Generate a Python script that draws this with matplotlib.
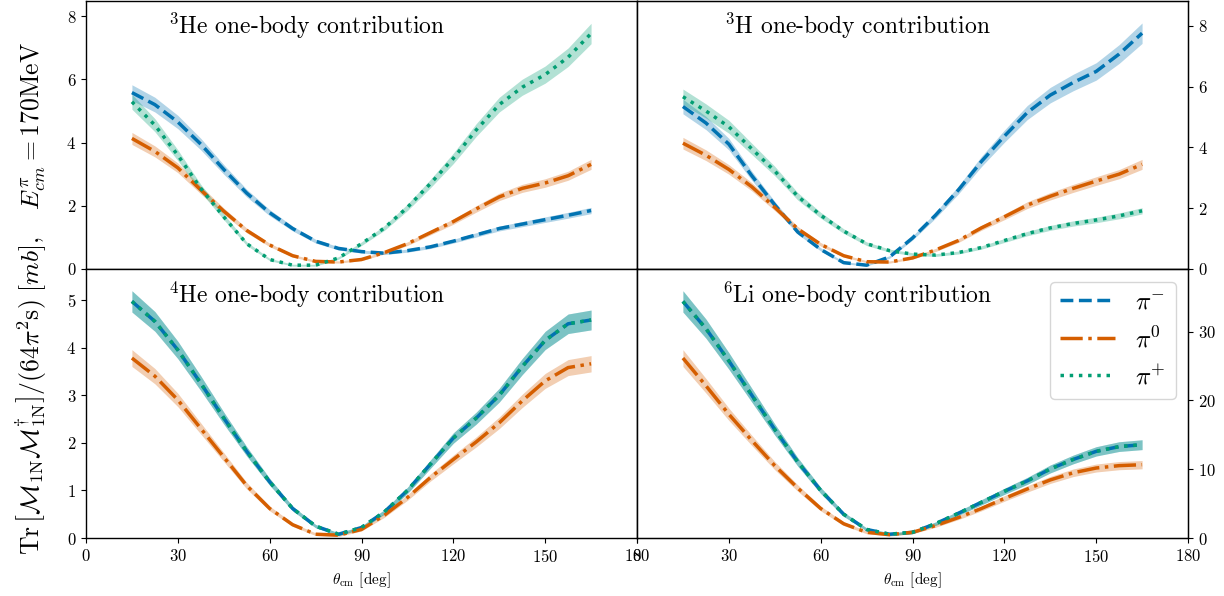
import numpy as np
import matplotlib
matplotlib.use("Agg")
import matplotlib.pyplot as plt

plt.rcParams['font.family'] = 'serif'
plt.rcParams['font.serif'] = ['cmr10']
plt.rcParams['mathtext.fontset'] = 'cm'
plt.rcParams['axes.formatter.use_mathtext'] = True
plt.rcParams['axes.unicode_minus'] = False

# scattering angle grid (deg)
theta = [15, 22.5, 30, 37.5, 45, 52.5, 60, 67.5, 75, 82.5, 90,
         97.5, 105, 112.5, 120, 127.5, 135, 142.5, 150, 157.5, 165]

# 3He
he3_pim = [5.58, 5.20, 4.65, 3.95, 3.15, 2.40, 1.78, 1.28, 0.88, 0.65, 0.55,
           0.50, 0.58, 0.70, 0.88, 1.08, 1.28, 1.42, 1.56, 1.70, 1.85]
he3_pi0 = [4.13, 3.72, 3.20, 2.50, 1.83, 1.22, 0.76, 0.42, 0.24, 0.22, 0.30,
           0.52, 0.80, 1.15, 1.50, 1.90, 2.28, 2.55, 2.72, 2.95, 3.31]
he3_pip = [5.29, 4.55, 3.60, 2.55, 1.65, 0.80, 0.30, 0.12, 0.12, 0.35, 0.80,
           1.30, 1.95, 2.70, 3.50, 4.40, 5.20, 5.75, 6.15, 6.70, 7.45]

# 3H
h3_pim = [5.14, 4.62, 3.95, 2.95, 2.03, 1.17, 0.62, 0.20, 0.12, 0.38, 0.98,
          1.70, 2.50, 3.40, 4.20, 4.95, 5.50, 5.90, 6.25, 6.80, 7.46]
h3_pi0 = [3.98, 3.60, 3.15, 2.60, 1.95, 1.27, 0.78, 0.42, 0.23, 0.22, 0.35,
          0.60, 0.90, 1.30, 1.65, 2.02, 2.30, 2.55, 2.78, 3.00, 3.31]
h3_pip = [5.45, 5.00, 4.50, 3.80, 3.10, 2.30, 1.70, 1.20, 0.80, 0.58, 0.47,
          0.44, 0.52, 0.68, 0.90, 1.12, 1.30, 1.44, 1.55, 1.68, 1.84]

# 4He (pi- and pi+ coincide)
he4_pim = [4.97, 4.55, 3.95, 3.25, 2.52, 1.82, 1.18, 0.62, 0.25, 0.08, 0.22,
           0.55, 1.00, 1.55, 2.10, 2.52, 3.00, 3.60, 4.15, 4.50, 4.58]
he4_pi0 = [3.78, 3.40, 2.90, 2.30, 1.70, 1.10, 0.62, 0.28, 0.08, 0.06, 0.18,
           0.48, 0.85, 1.27, 1.65, 2.02, 2.42, 2.88, 3.30, 3.58, 3.66]
he4_pip = he4_pim

# 6Li (pi- and pi+ coincide)
li6_pim = [4.97, 4.40, 3.72, 3.00, 2.28, 1.60, 1.00, 0.50, 0.18, 0.08, 0.12,
           0.30, 0.52, 0.75, 0.98, 1.20, 1.45, 1.65, 1.82, 1.92, 1.96]
li6_pi0 = [3.78, 3.20, 2.60, 2.05, 1.52, 1.05, 0.62, 0.30, 0.12, 0.07, 0.12,
           0.26, 0.43, 0.62, 0.83, 1.03, 1.22, 1.37, 1.47, 1.52, 1.54]
li6_pip = li6_pim

# band half-width: relative part + floor
rel_err = 0.04
abs_err = 0.025

labels = [r'$\pi^{-}$', r'$\pi^{0}$', r'$\pi^{+}$']
colors = ['#0173b2', '#d55e00', '#029e73']
styles = ['--', '-.', ':']

fig = plt.figure(figsize=(12.24, 5.96), dpi=100)
L, W = 86 / 1224, 551 / 1224
ax_tl = fig.add_axes([L, 0.5487, W, 0.4497])
ax_tr = fig.add_axes([L + W, 0.5487, W, 0.4497])
ax_bl = fig.add_axes([L, 0.0973, W, 0.4513])
ax_br = fig.add_axes([L + W, 0.0973, W, 0.4513])

panels = [
    (ax_tl, r'$^3$He one-body contribution', [he3_pim, he3_pi0, he3_pip], 8.48),
    (ax_tr, r'$^3$H one-body contribution', [h3_pim, h3_pi0, h3_pip], 8.48),
    (ax_bl, r'$^4$He one-body contribution', [he4_pim, he4_pi0, he4_pip], 5.65),
    (ax_br, r'$^6$Li one-body contribution', [li6_pim, li6_pi0, li6_pip], 5.65),
]

for ax, title, series, ytop in panels:
    for ys, c, ls, lab in zip(series, colors, styles, labels):
        y = np.array(ys)
        err = rel_err * y + abs_err
        ax.fill_between(theta, y - err, y + err, color=c, alpha=0.3, lw=0)
        ax.plot(theta, y, ls, color=c, lw=2.5, label=lab)
    ax.set_xlim(0, 180)
    ax.set_ylim(0, ytop)
    ax.set_xticks(range(0, 181, 30))
    ax.text(0.4, 0.905, title, transform=ax.transAxes, ha='center',
            va='center', fontsize=17)
    ax.tick_params(labelsize=12)
    for s in ax.spines.values():
        s.set_linewidth(1.0)

ax_tl.set_yticks([0, 2, 4, 6, 8])
ax_bl.set_yticks([0, 1, 2, 3, 4, 5])

# right-hand axes
tw_t = ax_tr.twinx()
tw_t.set_ylim(0, 8.82)
tw_t.set_yticks([0, 2, 4, 6, 8])
tw_t.tick_params(labelsize=12)
tw_b = ax_br.twinx()
tw_b.set_ylim(0, 39.1)
tw_b.set_yticks([0, 10, 20, 30])
tw_b.tick_params(labelsize=12)

for ax in (ax_tl, ax_tr, tw_t):
    ax.tick_params(bottom=False, labelbottom=False)
for ax in (ax_tr, ax_br):
    ax.tick_params(left=False, labelleft=False, right=False, labelright=False)

for ax in (ax_bl, ax_br):
    ax.set_xlabel(r'$\theta_{\rm cm}$ [deg]', fontsize=11)

ax_br.legend(loc='upper right', fontsize=18, handlelength=2.2)

fig.text(0.026, 0.5,
         r'Tr$\,\left[\mathcal{M}_{\rm 1N}\mathcal{M}_{\rm 1N}^{\dagger}\right]/(64\pi^2{\rm s})\ [mb],\ \ \ E^{\pi}_{cm} = 170{\rm MeV}$',
         rotation=90, ha='center', va='center', fontsize=18.5)

fig.savefig('out.png', dpi=100)
